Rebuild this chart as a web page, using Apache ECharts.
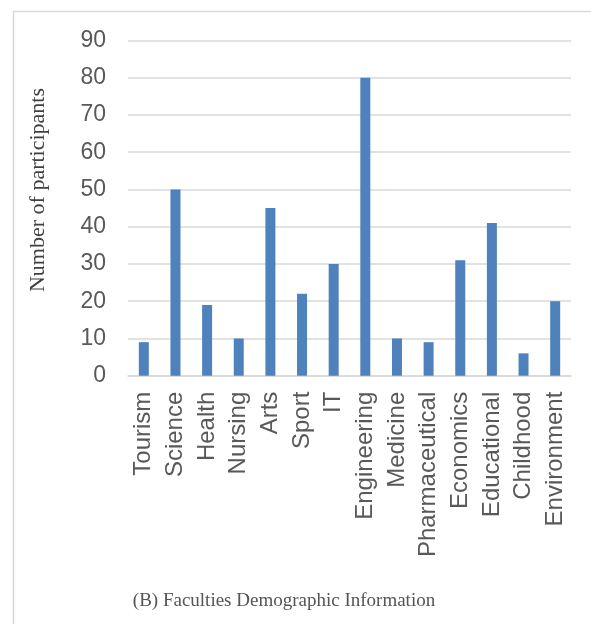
<!DOCTYPE html>
<html>
<head>
<meta charset="utf-8">
<script src="https://cdn.jsdelivr.net/npm/echarts@6/dist/echarts.min.js"></script>
<style>
  html, body { margin: 0; padding: 0; background: #fff; }
  #chart { width: 591px; height: 624px; }
</style>
</head>
<body>
<div id="chart"></div>
<script>
// Faculty names along the horizontal axis
const faculties = ['Tourism', 'Science', 'Health', 'Nursing', 'Arts', 'Sport', 'IT',
  'Engineering', 'Medicine', 'Pharmaceutical', 'Economics', 'Educational', 'Childhood', 'Environment'];
// Number of participants in each faculty
const participants = [9, 50, 19, 10, 45, 22, 30, 80, 10, 9, 31, 41, 6, 20];
// Value axis range
const yMin = 0;
const yMax = 90;
const yStep = 10;

const chart = echarts.init(document.getElementById('chart'), null, { renderer: 'canvas' });
chart.setOption({
  animation: false,
  backgroundColor: '#ffffff',
  graphic: [
    {
      type: 'rect',
      shape: { x: 13.5, y: 11.5, width: 700, height: 700 },
      style: { fill: 'none', stroke: '#d9d9d9', lineWidth: 1.5 },
      silent: true
    },
    {
      // axis title, rotated to read bottom-to-top
      type: 'text',
      x: 38,
      y: 190,
      rotation: Math.PI / 2,
      style: {
        text: 'Number of participants',
        font: '22px "Liberation Serif", "Times New Roman", serif',
        fill: '#404040',
        align: 'center',
        verticalAlign: 'middle'
      }
    },
    {
      type: 'text',
      x: 284,
      y: 601,
      style: {
        text: '(B) Faculties Demographic Information',
        font: '19px "Liberation Serif", "Times New Roman", serif',
        fill: '#555555',
        align: 'center',
        verticalAlign: 'middle'
      }
    }
  ],
  grid: { left: 128, right: 20, top: 40.5, bottom: 248.3, containLabel: false },
  xAxis: {
    type: 'category',
    data: faculties,
    axisLine: { show: true, lineStyle: { color: '#d9d9d9', width: 1.5 } },
    axisTick: { show: false },
    axisLabel: {
      rotate: 90,
      interval: 0,
      margin: 16,
      fontFamily: '"Liberation Sans", Arial, sans-serif',
      fontSize: 24,
      color: '#595959'
    }
  },
  yAxis: {
    type: 'value',
    min: yMin,
    max: yMax,
    interval: yStep,
    axisLine: { show: false },
    axisTick: { show: false },
    splitLine: { lineStyle: { color: '#d9d9d9', width: 1.5 } },
    axisLabel: {
      margin: 22,
      fontFamily: '"Liberation Sans", Arial, sans-serif',
      fontSize: 23,
      color: '#595959'
    }
  },
  series: [{
    type: 'bar',
    data: participants,
    barWidth: 10,
    itemStyle: { color: '#4f81bd' }
  }]
});
</script>
</body>
</html>
